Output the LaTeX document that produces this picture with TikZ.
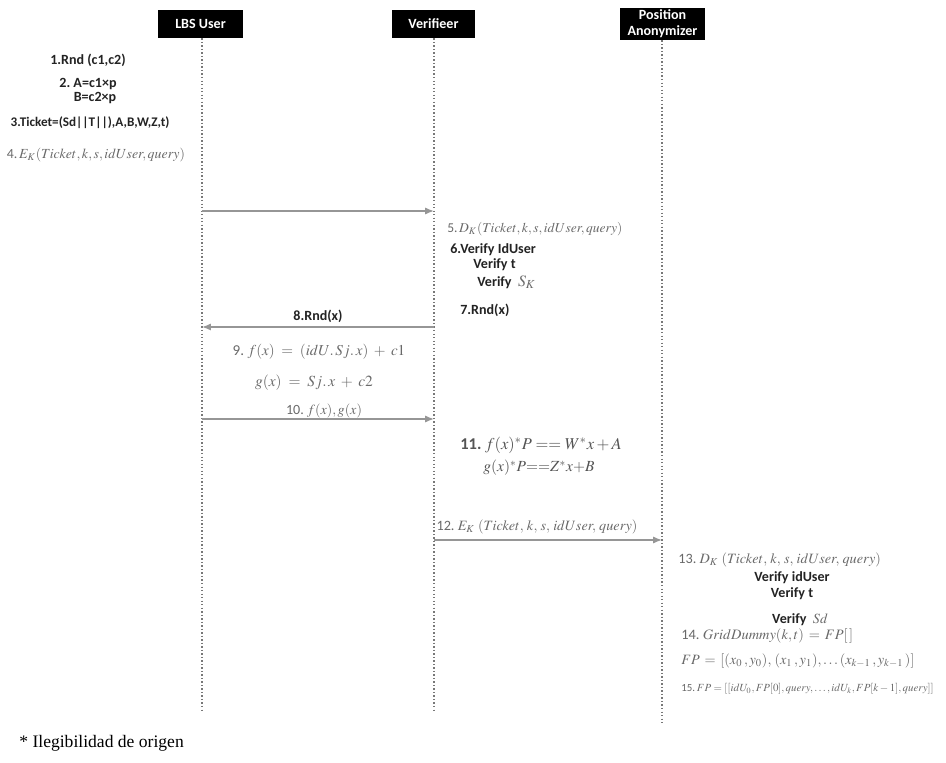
\documentclass[tikz,border=0pt]{standalone}
\usepackage{amsmath}
\usepackage{mathptmx}
\usepackage{fontspec}
\setmainfont{Carlito}
\newfontfamily\timesfont{Liberation Serif}
\usetikzlibrary{arrows.meta}
\definecolor{arrgray}{RGB}{150,150,150}
\definecolor{mathgray}{RGB}{105,105,105}
\definecolor{lblcol}{RGB}{35,35,35}
\tikzset{
  head/.style={fill=black, text=white, font=\bfseries\fontsize{8}{9}\selectfont, inner sep=0pt, align=center, minimum height=28*0.02cm},
  life/.style={draw=arrgray!80!black, line width=0.9pt, dash pattern=on 0.8pt off 1.2pt},
  msg/.style={draw=arrgray, line width=0.8pt, -{Latex[length=5pt,width=4pt]}},
  lbl/.style={text=lblcol, font=\bfseries\fontsize{8}{9}\selectfont, inner sep=0pt},
  mth/.style={text=mathgray, font=\fontsize{7}{8}\selectfont, inner sep=0pt},
  fs/.style={font=\fontsize{#1}{#1}\selectfont},
  bfs/.style={font=\bfseries\fontsize{#1}{#1}\selectfont}
}
\begin{document}
\begin{tikzpicture}[x=0.02cm, y=-0.02cm]
\useasboundingbox (0,0) rectangle (946,763);
% heads
\node[head, minimum width=85*0.02cm] (hu) at (200.5,24) {LBS User};
\node[head, minimum width=83*0.02cm] (hv) at (433.5,24) {Verifieer};
\node[head, minimum width=85*0.02cm, minimum height=32*0.02cm] (hp) at (662.5,24) {Position\\Anonymizer};
% lifelines
\coordinate (eu) at (202,712);
\coordinate (ev) at (434,712);
\coordinate (ep) at (662,725);
\draw[life] (hu.south -| eu) -- (eu);
\draw[life] (hv.south -| ev) -- (ev);
\draw[life] (hp.south -| ep) -- (ep);
% message points
\coordinate (u1) at (202,211); \coordinate (v1) at (434,211);
\coordinate (v2) at (434,327); \coordinate (u2) at (202,327);
\coordinate (u3) at (202,419); \coordinate (v3) at (434,419);
\coordinate (v4) at (434,540); \coordinate (p4) at (662,540);
\draw[msg] (u1) -- (v1);
\draw[msg] (v2) -- (u2);
\draw[msg] (u3) -- (v3);
\draw[msg] (v4) -- (p4);
% LBS user texts
\node[lbl] (t1) at (88,60) {1.Rnd (c1,c2)};
\node[lbl] (t2a) at (88,84) {2.\ A=c1×p};
\node[lbl] (t2b) at (95,98) {B=c2×p};
\node[lbl, bfs=7.5] (t3) at (90,123) {3.Ticket=(Sd||T||),A,B,W,Z,t)};
\node[mth, fs=7.9] (t4) at (96,155) {4.$\,E_K(Ticket,k,s,idUser,query)$};
% verifier texts
\node[mth, fs=7.7, anchor=west] (t5) at (447,229) {5.$\,D_K(Ticket,k,s,idUser,query)$};
\node[lbl, anchor=west] (t6) at (450,250) {6.Verify IdUser};
\node[lbl, anchor=west] (t6b) at (473,265) {Verify t};
\node[lbl, anchor=west] (t6c) at (477,282) {Verify \ \textcolor{mathgray}{\normalfont\fontsize{9}{10}\selectfont$S_K$}};
\node[lbl, anchor=west] (t7) at (460,310) {7.Rnd(x)};
\node[lbl] (t8) at (318,316) {8.Rnd(x)};
\node[mth, fs=8.6] (t9) at (319,352) {9.\ $f(x)\;=\;(idU.\,Sj.\,x)\;+\;c1$};
\node[mth, fs=8.8] (t9b) at (314,383) {$g(x)\;=\;Sj.\,x\;+\;c2$};
\node[mth, fs=8] (t10) at (324,411) {10.\ $f(x),g(x)$};
\node[mth, fs=9.4, text=mathgray!80!black] (t11) at (541,445) {\textbf{11.}\ $f(x)^{*}P == W^{*}x + A$};
\node[mth, fs=8.8, text=mathgray!80!black] (t11b) at (539,468) {$g(x)^{*}P{==}Z^{*}x{+}B$};
\node[mth, fs=8.1] (t12) at (537,527) {12.\ $E_K\;(Ticket,\,k,\,s,\,idUser,\,query)$};
% position anonymizer texts
\node[mth, fs=8.1, anchor=west] (t13) at (678,560) {13.\ $D_K\;(Ticket,\,k,\,s,\,idUser,\,query)$};
\node[lbl] (t13b) at (792,578) {Verify idUser};
\node[lbl] (t13c) at (792,594) {Verify t};
\node[lbl] (t13d) at (800,620) {Verify \ \textcolor{mathgray}{\normalfont\fontsize{8}{9}\selectfont$Sd$}};
\node[mth, fs=8.2, anchor=west] (t14) at (681,636) {14.\ $GridDummy(k,t)\,=\,FP[\,]$};
\node[mth, fs=8.1, anchor=west] (t14b) at (681,661) {$FP\,=\,[(x_0\,,y_0),\,(x_1\,,y_1),\ldots(x_{k-1}\,,y_{k-1}\,)]$};
\node[mth, fs=6.2, anchor=west] (t15) at (681,689) {15.\,$FP=[[idU_0,FP[0],query,\ldots,idU_k,FP[k-1],query]]$};
% footnote
\node[inner sep=0pt, anchor=west, font=\timesfont\fontsize{10}{12}\selectfont] (fn) at (19,743) {* Ilegibilidad de origen};
\end{tikzpicture}
\end{document}
